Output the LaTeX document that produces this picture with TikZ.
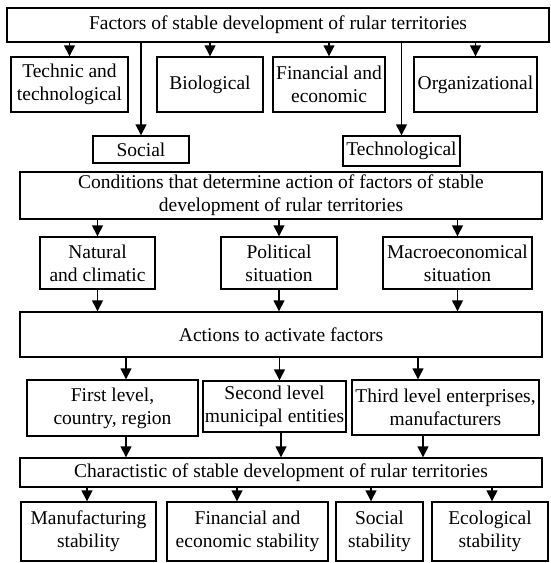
\documentclass[tikz,border=0pt]{standalone}
\usepackage{fontspec}
\setmainfont{Liberation Serif}
\usetikzlibrary{arrows.meta}

\begin{document}
\begin{tikzpicture}[
    x=1pt, y=-1pt,
    block/.style={rectangle, draw, line width=1.4pt, align=center, inner sep=0pt,
      font=\fontsize{19.5}{23}\selectfont},
    link/.style={-{Triangle[width=11pt,length=11pt]}, line width=1.4pt}
  ]
    \useasboundingbox (0,0) rectangle (551,563);

    % factors
    \node[block, minimum width=542pt, minimum height=34pt] (factors) at (278,25)
      {Factors of stable development of rular territories};
    \node[block, minimum width=117pt, minimum height=55pt] (technic) at (69.5,84.5)
      {Technic and\\technological};
    \node[block, minimum width=106pt, minimum height=55pt] (bio) at (210,84.5)
      {Biological};
    \node[block, minimum width=112pt, minimum height=55pt] (fin) at (329,84.5)
      {Financial and\\economic};
    \node[block, minimum width=123pt, minimum height=55pt] (org) at (475.5,84.5)
      {Organizational};
    \node[block, minimum width=96pt, minimum height=27pt] (social) at (141,149.5)
      {Social};
    \node[block, minimum width=117pt, minimum height=30pt] (techno) at (401.5,151)
      {Technological};

    % conditions
    \node[block, minimum width=522pt, minimum height=47pt] (cond) at (281,195.5)
      {Conditions that determine action of factors of stable\\development of rular territories};
    \node[block, minimum width=115pt, minimum height=52pt] (natural) at (97.5,263)
      {Natural\\and climatic};
    \node[block, minimum width=116pt, minimum height=52pt] (political) at (279,263)
      {Political\\situation};
    \node[block, minimum width=149pt, minimum height=52pt] (macro) at (457.5,263)
      {Macroeconomical\\situation};

    % actions
    \node[block, minimum width=522pt, minimum height=45pt] (actions) at (281,334.5)
      {Actions to activate factors};
    \node[block, minimum width=171pt, minimum height=56pt] (first) at (112.5,408)
      {First level,\\country, region};
    \node[block, minimum width=143pt, minimum height=51pt] (second) at (274.5,406.5)
      {Second level\\municipal entities};
    \node[block, minimum width=187pt, minimum height=55pt] (third) at (445.5,407.5)
      {Third level enterprises,\\manufacturers};

    % characteristic
    \node[block, minimum width=522pt, minimum height=29pt] (charact) at (281,472.5)
      {Charactistic of stable development of rular territories};
    \node[block, minimum width=135pt, minimum height=59pt] (manuf) at (88.5,531.5)
      {Manufacturing\\stability};
    \node[block, minimum width=161pt, minimum height=59pt] (finstab) at (247.5,531.5)
      {Financial and\\economic stability};
    \node[block, minimum width=87pt, minimum height=59pt] (socstab) at (379.5,531.5)
      {Social\\stability};
    \node[block, minimum width=116pt, minimum height=59pt] (ecostab) at (490,531.5)
      {Ecological\\stability};

    \foreach \n in {technic, bio, fin, org, social, techno}
      \draw[link] (factors.south -| \n.north) -- (\n.north);
    \foreach \n in {natural, political, macro}{
      \draw[link] (cond.south -| \n.north) -- (\n.north);
      \draw[link] (\n.south) -- (actions.north -| \n.south);
    }
    \foreach \n/\s in {first/13.5, second/5, third/-27.5}
      \draw[link] ([xshift=\s pt]\n.north |- actions.south) -- ([xshift=\s pt]\n.north);
    \foreach \n/\s in {first/13.5, second/6.5, third/-22.5}
      \draw[link] ([xshift=\s pt]\n.south) -- ([xshift=\s pt]\n.south |- charact.north);
    \foreach \n/\s in {manuf/-1.5, finstab/-10.5, socstab/-8.5, ecostab/2}
      \draw[link] ([xshift=\s pt]\n.north |- charact.south) -- ([xshift=\s pt]\n.north);
  \end{tikzpicture}
\end{document}
